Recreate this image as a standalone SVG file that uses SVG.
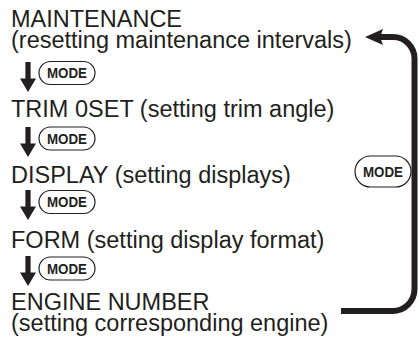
<svg xmlns="http://www.w3.org/2000/svg" width="419" height="340" viewBox="0 0 419 340">
<style>
.t{font-family:"Liberation Sans",Arial,sans-serif;font-size:23.5px;fill:#231f20}
.m{font-family:"Liberation Sans",Arial,sans-serif;font-size:14px;font-weight:bold;fill:#231f20;text-anchor:middle}
.p{fill:#fff;stroke:#231f20;stroke-width:1.2}
.a{fill:#231f20}
.c{fill:none;stroke:#231f20;stroke-width:6}
</style>
<defs>
<path id="dn" class="a" d="M-2.6 0 H2.6 V16.5 H8 L0 30 L-8 16.5 H-2.6 Z"/>
</defs>
<g id="n-maintenance">
<text class="t" x="11" y="26.5">MAINTENANCE</text>
<text class="t" x="11" y="47.5">(resetting maintenance intervals)</text>
</g>
<g id="n-trim">
<text class="t" x="11" y="117">TRIM 0SET (setting trim angle)</text>
</g>
<g id="n-display">
<text class="t" x="11" y="183">DISPLAY (setting displays)</text>
</g>
<g id="n-form">
<text class="t" x="11" y="247.5">FORM (setting display format)</text>
</g>
<g id="n-engine">
<text class="t" x="11" y="310">ENGINE NUMBER</text>
<text class="t" x="11" y="331">(setting corresponding engine)</text>
</g>
<g id="connectors">
<use href="#dn" x="28" y="62"/>
<use href="#dn" x="28" y="127"/>
<use href="#dn" x="28" y="190"/>
<use href="#dn" x="28" y="256"/>
<path class="c" d="M380 37 H393 A21.5 21.5 0 0 1 414.5 58.5 V289 A22 22 0 0 1 392.5 311 H341"/>
<polygon class="a" points="365,37 383,29 380,37 383,45"/>
</g>
<g id="mode1"><rect class="p" x="39" y="61.5" width="56" height="23" rx="11.5"/><text class="m" x="67" y="78" textLength="40" lengthAdjust="spacingAndGlyphs">MODE</text></g>
<g id="mode2"><rect class="p" x="39" y="127" width="56" height="23" rx="11.5"/><text class="m" x="67" y="143.5" textLength="40" lengthAdjust="spacingAndGlyphs">MODE</text></g>
<g id="mode3"><rect class="p" x="39" y="190.5" width="56" height="23" rx="11.5"/><text class="m" x="67" y="207" textLength="40" lengthAdjust="spacingAndGlyphs">MODE</text></g>
<g id="mode4"><rect class="p" x="39" y="257" width="56" height="23" rx="11.5"/><text class="m" x="67" y="273.5" textLength="40" lengthAdjust="spacingAndGlyphs">MODE</text></g>
<g id="mode5"><rect class="p" x="355" y="156" width="56" height="31" rx="15.5"/><text class="m" x="383" y="176.5" textLength="40" lengthAdjust="spacingAndGlyphs">MODE</text></g>
</svg>
